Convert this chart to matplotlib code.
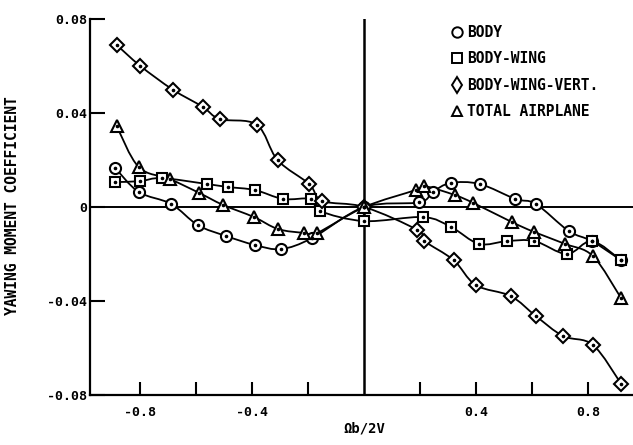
import matplotlib
matplotlib.use("Agg")
import matplotlib.pyplot as plt
import numpy as np
from matplotlib.path import Path
from matplotlib.patches import PathPatch
from matplotlib.lines import Line2D

# values
body_x = [-0.89, -0.806, -0.69, -0.595, -0.495, -0.39, -0.297, -0.186, 0.0,
          0.197, 0.244, 0.308, 0.412, 0.54, 0.613, 0.73, 0.813, 0.917]
body_y = [0.0166, 0.0064, 0.0013, -0.0077, -0.0123, -0.0162, -0.0179, -0.0132, 0.0,
          0.002, 0.0064, 0.0102, 0.0098, 0.0034, 0.0013, -0.0102, -0.0145, -0.0226]

bw_x = [-0.892, -0.8, -0.724, -0.563, -0.487, -0.39, -0.29, -0.19, -0.158, 0.0,
        0.21, 0.31, 0.41, 0.51, 0.608, 0.724, 0.813, 0.917]
bw_y = [0.0106, 0.011, 0.0123, 0.0098, 0.0085, 0.0072, 0.0034, 0.0034, -0.0017, -0.006,
        -0.0043, -0.0085, -0.0157, -0.0145, -0.0145, -0.02, -0.0145, -0.0226]

bwv_x = [-0.885, -0.8, -0.685, -0.577, -0.516, -0.384, -0.31, -0.197, -0.15, 0.0,
         0.19, 0.215, 0.319, 0.398, 0.523, 0.613, 0.71, 0.817, 0.918]
bwv_y = [0.069, 0.060, 0.050, 0.0426, 0.0374, 0.035, 0.020, 0.0098, 0.0026, 0.0,
         -0.0098, -0.0145, -0.0226, -0.0332, -0.0379, -0.0464, -0.0549, -0.0587, -0.0753]

tot_x = [-0.885, -0.806, -0.695, -0.59, -0.505, -0.394, -0.308, -0.215, -0.168, 0.0,
         0.183, 0.215, 0.323, 0.39, 0.527, 0.606, 0.717, 0.817, 0.917]
tot_y = [0.0345, 0.017, 0.0119, 0.006, 0.0009, -0.0043, -0.0094, -0.011, -0.011, 0.0,
         0.0072, 0.0089, 0.0051, 0.0017, -0.0064, -0.0106, -0.0157, -0.0209, -0.0387]

labels = ["BODY", "BODY-WING", "BODY-WING-VERT.", "TOTAL AIRPLANE"]
markers = ["o", "s", "D", "^"]

x_ticks = [-0.8, -0.6, -0.4, -0.2, 0.2, 0.4, 0.6, 0.8]
x_tick_labels = ["-0.8", "", "-0.4", "", "", "0.4", "", "0.8"]
y_ticks = [-0.08, -0.04, 0, 0.04, 0.08]
y_tick_labels = ["-0.08", "-0.04", "0", "0.04", "0.08"]

FONT = "DejaVu Sans Mono"


def smooth_path(x, y):
    # faired curve through the points (Catmull-Rom as cubic Beziers)
    p = np.column_stack([x, y])
    verts = [p[0]]
    codes = [Path.MOVETO]
    n = len(p)
    for i in range(n - 1):
        p0 = p[i - 1] if i > 0 else p[i]
        p3 = p[i + 2] if i + 2 < n else p[i + 1]
        c1 = p[i] + (p[i + 1] - p0) / 6.0
        c2 = p[i + 1] - (p3 - p[i]) / 6.0
        verts += [c1, c2, p[i + 1]]
        codes += [Path.CURVE4] * 3
    return Path(verts, codes)


fig = plt.figure(figsize=(6.33, 4.45), dpi=100)
ax = fig.add_axes([90 / 633, 50 / 445, 543 / 633, 376 / 445])

ax.set_xlim(-0.98, 0.96)
ax.set_ylim(-0.08, 0.08)

ax.axhline(0, color="black", lw=1.4, zorder=1)
ax.axvline(0, color="black", lw=1.8, zorder=1)

series = [(body_x, body_y), (bw_x, bw_y), (bwv_x, bwv_y), (tot_x, tot_y)]
sizes = [8, 7.5, 7, 8]
for (sx, sy), m, ms in zip(series, markers, sizes):
    ax.add_patch(PathPatch(smooth_path(sx, sy), fill=False, edgecolor="black",
                           lw=1.3, zorder=2))
    ax.plot(sx, sy, linestyle="none", marker=m, markersize=ms,
            markerfacecolor="white", markeredgecolor="black",
            markeredgewidth=1.5, zorder=3)
    ax.plot(sx, sy, linestyle="none", marker="o", markersize=1.6,
            color="black", zorder=4)

for s in ["top", "right"]:
    ax.spines[s].set_visible(False)
for s in ["left", "bottom"]:
    ax.spines[s].set_linewidth(1.6)

ax.set_xticks(x_ticks)
ax.set_xticklabels(x_tick_labels)
ax.set_yticks(y_ticks)
ax.set_yticklabels(y_tick_labels)
ax.tick_params(axis="x", direction="in", length=9.5, width=1.5, pad=8)
ax.tick_params(axis="y", direction="in", length=11, width=1.5, pad=2)
for t in ax.get_xticklabels() + ax.get_yticklabels():
    t.set_fontfamily(FONT)
    t.set_fontweight("bold")
    t.set_fontsize(9.5)

ax.set_ylabel("YAWING MOMENT COEFFICIENT", fontfamily=FONT, fontweight="bold",
              fontsize=10.5)
ax.yaxis.set_label_coords(-0.128, 0.503)
ax.set_xlabel("Ωb/2V", fontfamily=FONT, fontweight="bold", fontsize=10)
ax.xaxis.set_label_coords(0.505, -0.07)

handles = [Line2D([], [], linestyle="none", marker=m, markersize=7.5,
                  markerfacecolor="white", markeredgecolor="black",
                  markeredgewidth=1.4) for m in markers]
handles[2] = Line2D([], [], linestyle="none", marker="d", markersize=8.5,
                    markerfacecolor="white", markeredgecolor="black",
                    markeredgewidth=1.4)
leg = ax.legend(handles, labels, loc="upper left",
                bbox_to_anchor=(451 / 633, 1 - 25 / 445),
                bbox_transform=fig.transFigure, frameon=False,
                handlelength=0.8, handletextpad=0.3, labelspacing=0.78,
                borderaxespad=0, borderpad=0,
                prop={"family": FONT, "weight": "bold", "size": 10.5})

fig.savefig("out.png", dpi=100, facecolor="white")
